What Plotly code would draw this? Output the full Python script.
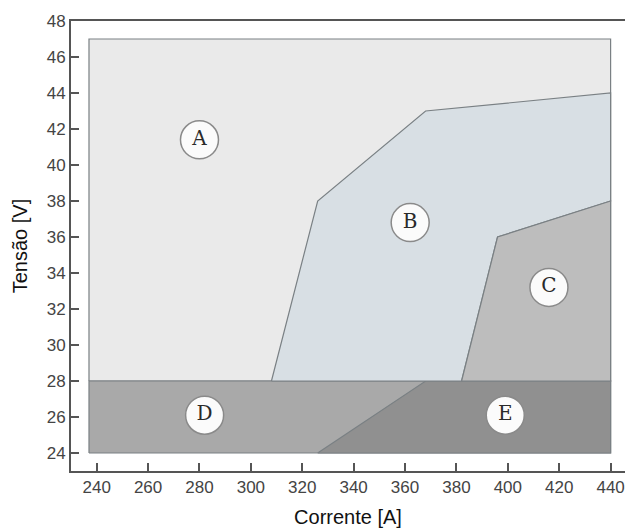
import plotly.graph_objects as go

# Operating-window regions (corrente [A], tensão [V])
box_x = [237, 440, 440, 237]
box_y = [28, 28, 47, 47]

region_d_x = [237, 440, 440, 237]
region_d_y = [24, 24, 28, 28]

region_e_x = [326, 440, 440, 368]
region_e_y = [24, 24, 28, 28]

region_b_x = [308, 326, 368, 440, 440, 396, 382]
region_b_y = [28, 38, 43, 44, 38, 36, 28]

region_c_x = [382, 396, 440, 440]
region_c_y = [28, 36, 38, 28]

label_text = ["A", "B", "C", "D", "E"]
label_x = [280, 362, 416, 282, 399]
label_y = [41.4, 36.8, 33.2, 26.1, 26.1]

x_ticks = [240, 260, 280, 300, 320, 340, 360, 380, 400, 420, 440]
y_ticks = [24, 26, 28, 30, 32, 34, 36, 38, 40, 42, 44, 46, 48]

edge = "#7a8084"
fig = go.Figure()


def region(xs, ys, fill):
    fig.add_trace(go.Scatter(
        x=xs + xs[:1], y=ys + ys[:1], mode="lines", fill="toself",
        fillcolor=fill, line=dict(color=edge, width=1.2),
        hoverinfo="skip", showlegend=False))


region(box_x, box_y, "#eaeaea")
region(region_d_x, region_d_y, "#a9a9a9")
region(region_e_x, region_e_y, "#909090")
region(region_b_x, region_b_y, "#d8dfe4")
region(region_c_x, region_c_y, "#bdbdbd")

fig.add_trace(go.Scatter(
    x=label_x, y=label_y, mode="markers+text", text=label_text,
    textposition="middle center",
    textfont=dict(family="DejaVu Serif, serif", size=20, color="#2a2a2a"),
    marker=dict(size=38, color="#fbfbfb", line=dict(color="#8a8a8a", width=1.5)),
    hoverinfo="skip", showlegend=False))

axis_font = dict(family="Liberation Sans, Arial, sans-serif", size=17, color="#444444")
title_font = dict(family="Liberation Sans, Arial, sans-serif", size=20, color="#111111")

fig.update_layout(
    width=625, height=528,
    margin=dict(l=71, r=0, t=21, b=57),
    paper_bgcolor="white", plot_bgcolor="white",
    xaxis=dict(
        range=[230, 445.6], tickvals=x_ticks, ticks="inside", ticklen=8,
        tickwidth=1.5, tickcolor="#555555", showgrid=False, zeroline=False,
        showline=True, linecolor="#555555", linewidth=2, mirror=True,
        tickfont=axis_font, automargin=False,
        title=dict(text="Corrente [A]", standoff=14, font=title_font),
    ),
    yaxis=dict(
        range=[23, 48], tickvals=y_ticks, ticks="inside", ticklen=8,
        tickwidth=1.5, tickcolor="#555555", showgrid=False, zeroline=False,
        showline=True, linecolor="#555555", linewidth=2,
        tickfont=axis_font, automargin=False,
        title=dict(text="Tensão [V]", standoff=14, font=title_font),
    ),
)

fig.write_html("out.html")
